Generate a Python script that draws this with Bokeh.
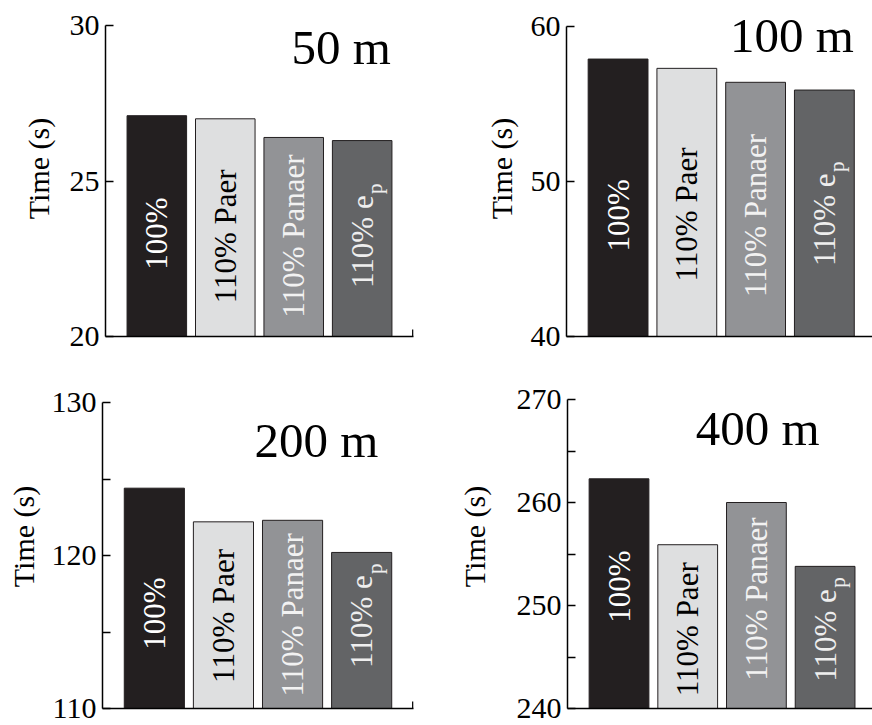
import math
from bokeh.plotting import figure
from bokeh.layouts import column, row
from bokeh.models import ColumnDataSource, FixedTicker, Label, Range1d
from bokeh.embed import file_html
from bokeh.resources import INLINE

# ---------------- data ----------------
conditions = ["100%", "110% Paer", "110% Panaer", "110% e_p"]
bar_text = ["100%", "110% Paer", "110% Panaer", "110% e"]
sub_text = ["", "", "", "p"]
distances = ["50 m", "100 m", "200 m", "400 m"]
t50 = [27.1, 27.0, 26.4, 26.3]
t100 = [57.9, 57.3, 56.4, 55.9]
t200 = [124.4, 122.2, 122.3, 120.2]
t400 = [262.3, 255.9, 260.0, 253.8]
y_ranges = [(20, 30), (40, 60), (110, 130), (240, 270)]
major_ticks = [[20, 25, 30], [40, 50, 60], [110, 120, 130], [240, 250, 260, 270]]
minor_ticks = [[], [], [115, 125], [245, 255, 265]]
series = [t50, t100, t200, t400]

# ---------------- style / layout ----------------
FONT = "Liberation Serif"
bar_colors = ["#231f20", "#dedfe0", "#929396", "#636466"]
text_colors = ["#ffffff", "#000000", "#f2f2f2", "#eeeeee"]
xs = [1, 2, 3, 4]

layout_cfg = [
    dict(xr=(0.25, 4.75), fw=308, fh=311, L=105, R=27, T=25, B=28, end_tick=True,
         std=12, title=(4.42, 29.28), centers=[23.31, 23.22, 23.23, 23.23]),
    dict(xr=(0.25, 4.70), fw=306, fh=310, L=126, R=0, T=26, B=28, end_tick=False,
         std=10, title=(4.43, 59.4), centers=[47.81, 47.87, 47.81, 47.9]),
    dict(xr=(0.25, 4.75), fw=311, fh=306, L=102, R=27, T=38, B=17, end_tick=True,
         std=9, title=(4.24, 127.5), centers=[116.21, 116.05, 116.12, 116.05]),
    dict(xr=(0.25, 4.69), fw=305, fh=309, L=127, R=0, T=35, B=17, end_tick=False,
         std=23, title=(3.92, 267.15), centers=[251.83, 247.69, 250.63, 247.64]),
]


def make_panel(i):
    c = layout_cfg[i]
    y0, y1 = y_ranges[i]
    per_px = (y1 - y0) / c["fh"]
    # frame extends up to the canvas top so that nothing is clipped; the
    # axis line is bounded to the real range.
    p = figure(output_backend="svg", toolbar_location=None,
               frame_width=c["fw"], frame_height=c["fh"] + c["T"],
               min_border_left=c["L"], min_border_right=c["R"],
               min_border_top=0, min_border_bottom=c["B"],
               x_range=Range1d(*c["xr"]),
               y_range=Range1d(y0, y1 + c["T"] * per_px))
    p.outline_line_color = None
    p.xgrid.visible = False
    p.ygrid.visible = False
    p.background_fill_color = "white"
    p.border_fill_color = "white"

    # bars
    src = ColumnDataSource(dict(x=xs, top=series[i], cond=conditions,
                                color=bar_colors))
    p.vbar(x="x", top="top", bottom=y0, width=0.87, source=src,
           fill_color="color", line_color="#231f20", line_width=1)

    # y axis
    ya = p.yaxis[0]
    ya.bounds = (y0, y1)
    ya.ticker = FixedTicker(ticks=major_ticks[i], minor_ticks=minor_ticks[i])
    ya.major_tick_in = 8
    ya.major_tick_out = 0
    ya.minor_tick_in = 8
    ya.minor_tick_out = 0
    ya.axis_line_width = 1.5
    ya.major_tick_line_width = 1.5
    ya.minor_tick_line_width = 1.5
    ya.axis_line_color = "black"
    ya.major_label_text_font = FONT
    ya.major_label_text_font_size = "30px"
    ya.major_label_text_color = "black"
    ya.major_label_standoff = 6
    ya.axis_label = "Time (s)"
    ya.axis_label_text_font = FONT
    ya.axis_label_text_font_size = "30px"
    ya.axis_label_text_font_style = "normal"
    ya.axis_label_text_color = "black"
    ya.axis_label_standoff = c["std"]

    # x axis: plain line
    xa = p.xaxis[0]
    xa.ticker = FixedTicker(ticks=[], minor_ticks=[])
    xa.major_tick_line_color = None
    xa.minor_tick_line_color = None
    xa.axis_line_width = 1.5
    xa.axis_line_color = "black"
    xa.major_label_standoff = 0
    if c["end_tick"]:
        xe = c["xr"][1] - 0.01
        p.segment(x0=[xe], x1=[xe], y0=[y0], y1=[y0 + 7.0 * per_px],
                  line_color="black", line_width=1.5)

    # bar labels (vertical), one annotation per bar
    for k in range(len(xs)):
        if sub_text[k]:
            p.add_layout(Label(x=xs[k], y=c["centers"][k], text=bar_text[k],
                               angle=math.pi / 2, text_align="left",
                               text_baseline="middle", text_color=text_colors[k],
                               text_font=FONT, text_font_size="31px",
                               y_offset=-52))
            p.add_layout(Label(x=xs[k], y=c["centers"][k], text=sub_text[k],
                               angle=math.pi / 2, text_align="left",
                               text_baseline="middle", text_color=text_colors[k],
                               text_font=FONT, text_font_size="21px",
                               y_offset=42, x_offset=13))
        else:
            p.add_layout(Label(x=xs[k], y=c["centers"][k], text=bar_text[k],
                               angle=math.pi / 2, text_align="center",
                               text_baseline="middle", text_color=text_colors[k],
                               text_font=FONT, text_font_size="31px"))

    # distance title
    tx, ty = c["title"]
    p.add_layout(Label(x=tx, y=ty, text=distances[i], text_align="right",
                       text_baseline="middle", text_font=FONT,
                       text_font_size="49px", text_color="black"))
    return p


panels = [make_panel(i) for i in range(4)]
layout = column(row(panels[0], panels[1], spacing=0),
                row(panels[2], panels[3], spacing=0), spacing=0)

open("out.html", "w").write(file_html(layout, INLINE))
